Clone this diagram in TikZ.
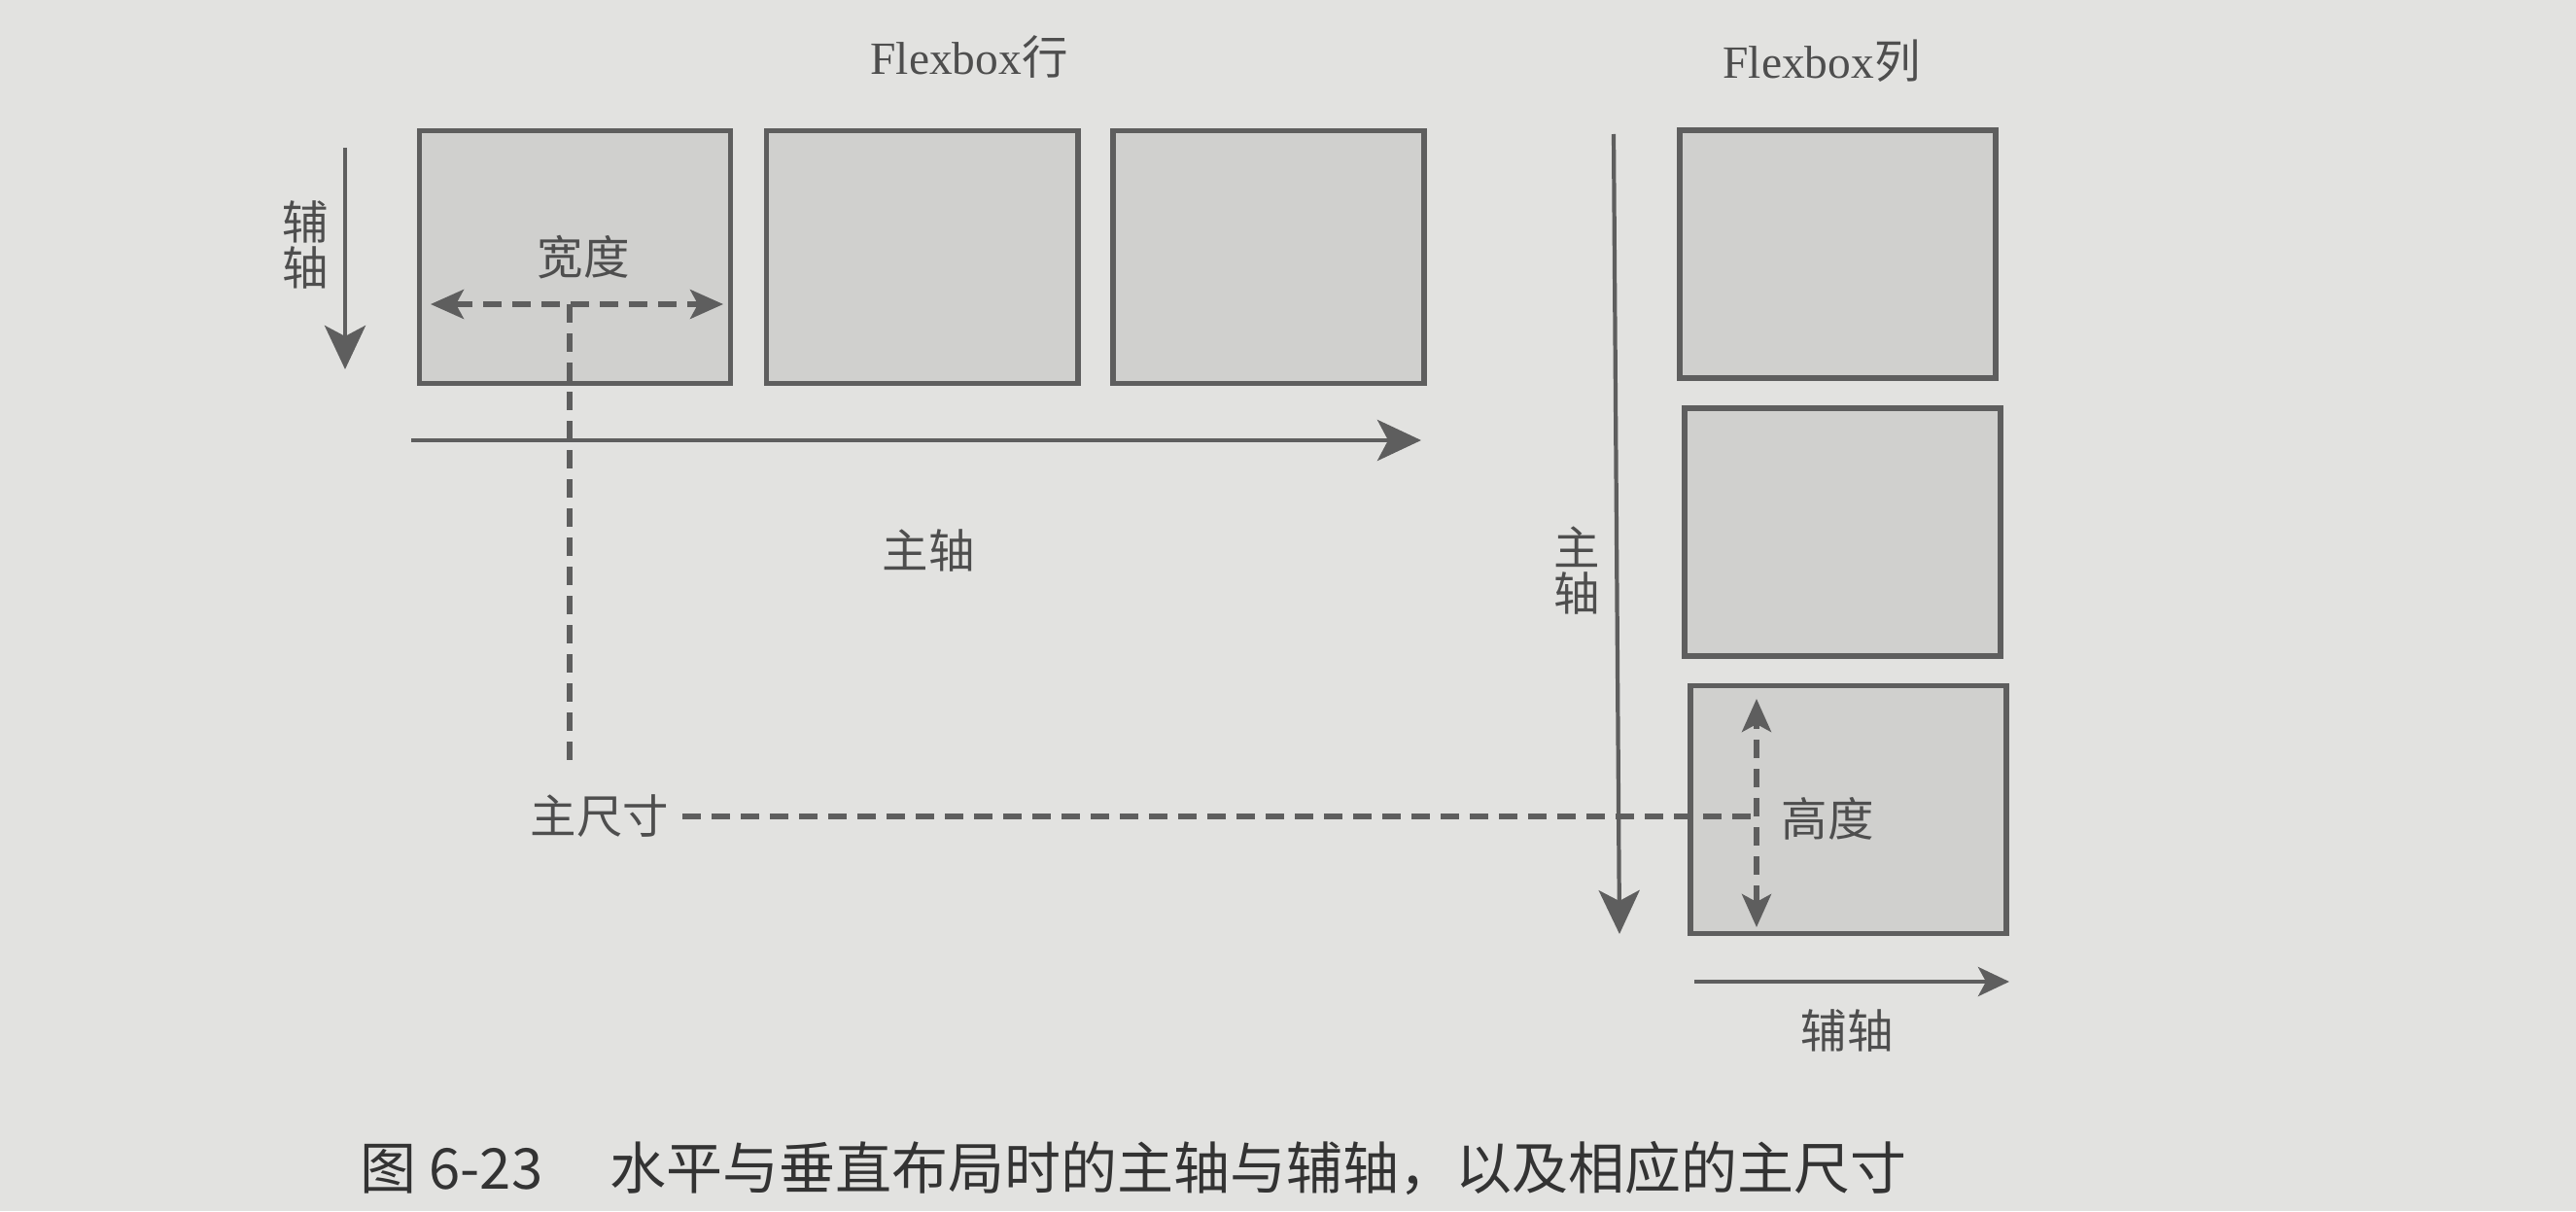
\documentclass[tikz,border=0pt]{standalone}
\usepackage{fontspec}
\setmainfont{Liberation Serif}
\newfontfamily\cjk{Noto Sans CJK SC}
\usetikzlibrary{arrows.meta}
\definecolor{paper}{HTML}{E2E2E0}
\definecolor{boxgray}{HTML}{D0D0CE}
\definecolor{linegray}{HTML}{5E5E5E}
\definecolor{textgray}{HTML}{4E4E4E}
\tikzset{
  itembox/.style={draw=linegray,fill=boxgray,line width=1.7pt,minimum width=3.2cm,minimum height=2.6cm,inner sep=0pt},
  colbox/.style={itembox,minimum width=3.25cm,minimum height=2.55cm},
  axis/.style={draw=linegray,line width=1.4pt,-{Stealth[length=4.5mm,width=4.2mm,inset=1.1mm]}},
  smallaxis/.style={draw=linegray,line width=1.3pt,-{Stealth[length=3.2mm,width=3mm,inset=0.8mm]}},
  dimline/.style={draw=linegray,line width=1.5pt,dash pattern=on 0.19cm off 0.11cm},
  dimarrow/.style={dimline,{Stealth[length=3.4mm,width=3mm,inset=0.8mm]}-{Stealth[length=3.4mm,width=3mm,inset=0.8mm]}},
  lbl/.style={text=textgray,font=\cjk\fontsize{13.5}{14}\selectfont,inner sep=1pt},
  vlbl/.style={lbl,align=center,font=\cjk\fontsize{13.5}{13.4}\selectfont},
  title/.style={text=textgray,font=\fontsize{13.5}{14}\selectfont,inner sep=1pt}
}
\begin{document}
\begin{tikzpicture}
\fill[paper] (0,0) rectangle (26.5,12.46);
\useasboundingbox (0,0) rectangle (26.5,12.46);
% flexbox row
\node[title] (rowtitle) at (9.97,11.87) {Flexbox{\cjk 行}};
\node[itembox] (row1) at (5.915,9.815) {};
\node[itembox] (row2) at (9.485,9.815) {};
\node[itembox] (row3) at (13.05,9.815) {};
\coordinate (crossTop) at (3.55,10.94);
\coordinate (crossEnd) at (3.55,8.66);
\draw[axis] (crossTop) -- (crossEnd);
\node[vlbl] (crossLbl) at (3.14,9.94) {辅\\轴};
\coordinate (mainStart) at (4.23,7.93);
\coordinate (mainEnd) at (14.62,7.93);
\draw[axis] (mainStart) -- (mainEnd);
\node[lbl] (mainLbl) at (9.55,6.80) {主轴};
\node[lbl] (widthLbl) at (6.00,9.81) {宽度};
\coordinate (wLeft) at (4.43,9.33);
\coordinate (wRight) at (7.44,9.33);
\coordinate (wMid) at (5.86,9.33);
\draw[dimarrow] (wLeft) -- (wRight);
\coordinate (wDown) at (5.86,4.57);
\draw[dimline] (wMid) -- (wDown);
\node[lbl] (sizeLbl) at (6.17,4.06) {主尺寸};
% flexbox column
\node[title] (coltitle) at (18.74,11.83) {Flexbox{\cjk 列}};
\node[colbox] (col1) at (18.90,9.845) {};
\node[colbox] (col2) at (18.95,6.985) {};
\node[colbox] (col3) at (19.01,4.13) {};
\coordinate (colTop) at (16.60,11.08);
\coordinate (colEnd) at (16.66,2.85);
\draw[axis,line width=1.2pt] (colTop) -- (colEnd);
\node[vlbl] (colMainLbl) at (16.22,6.59) {主\\轴};
\coordinate (hTop) at (18.07,5.27);
\coordinate (hBot) at (18.07,2.92);
\coordinate (hMid) at (18.03,4.06);
\draw[dimarrow] (hBot) -- (hTop);
\draw[dimline] (sizeLbl.east) ++(0.1,0) coordinate (sizeStart) (sizeStart) -- (hMid);
\node[lbl] (heightLbl) at (18.80,4.04) {高度};
\coordinate (subStart) at (17.43,2.36);
\coordinate (subEnd) at (20.67,2.36);
\draw[smallaxis] (subStart) -- (subEnd);
\node[lbl] (subLbl) at (19.00,1.86) {辅轴};
% caption
\node[anchor=west,text=black!80,font=\cjk\fontsize{16.5}{18}\selectfont,inner sep=0pt] (caption) at (3.70,0.44) {图 6-23\hspace{1.2em}水平与垂直布局时的主轴与辅轴，以及相应的主尺寸};
\end{tikzpicture}
\end{document}
